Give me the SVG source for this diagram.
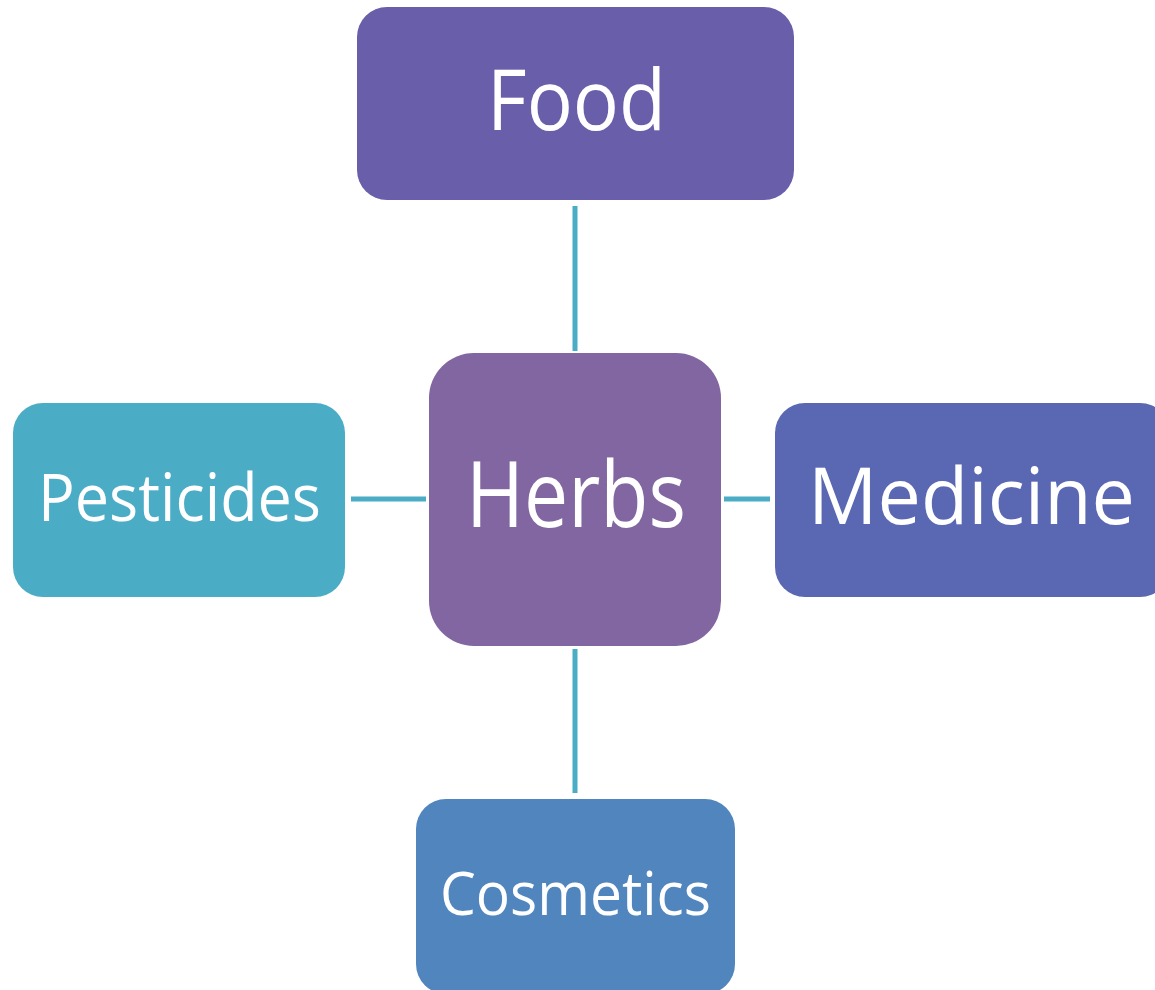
<svg xmlns="http://www.w3.org/2000/svg" width="1155" height="990" viewBox="0 0 1155 990">
<style>
.lbl{font-family:"Open Sans","Noto Sans",sans-serif;fill:#fff;text-anchor:middle}
.con{stroke:#4BACC6;stroke-width:5;fill:none}
</style>
<rect width="1155" height="990" fill="#fff"/>
<g id="connectors">
<line class="con" x1="575" y1="206" x2="575" y2="351"/>
<line class="con" x1="575" y1="649" x2="575" y2="793"/>
<line class="con" x1="351" y1="499" x2="426" y2="499"/>
<line class="con" x1="724" y1="499" x2="770" y2="499"/>
</g>
<g id="food">
<rect x="357" y="7" width="437" height="193" rx="30" fill="#695EAA"/>
<text class="lbl" x="576.5" y="130" font-size="84" textLength="179" lengthAdjust="spacingAndGlyphs">Food</text>
</g>
<g id="herbs">
<rect x="429" y="353" width="292" height="293" rx="45" fill="#8266A1"/>
<text class="lbl" x="576" y="527" font-size="91" textLength="220" lengthAdjust="spacingAndGlyphs">Herbs</text>
</g>
<g id="pesticides">
<rect x="13" y="403" width="332" height="194" rx="30" fill="#4BACC6"/>
<text class="lbl" x="179.5" y="521" font-size="66" textLength="283" lengthAdjust="spacingAndGlyphs">Pesticides</text>
</g>
<g id="medicine">
<rect x="775" y="403" width="395" height="194" rx="30" fill="#5A68B3"/>
<text class="lbl" x="971.5" y="524" font-size="78" textLength="327" lengthAdjust="spacingAndGlyphs">Medicine</text>
</g>
<g id="cosmetics">
<rect x="416" y="799" width="319" height="195" rx="30" fill="#5085BE"/>
<text class="lbl" x="575.5" y="915" font-size="60" textLength="271" lengthAdjust="spacingAndGlyphs">Cosmetics</text>
</g>
</svg>
